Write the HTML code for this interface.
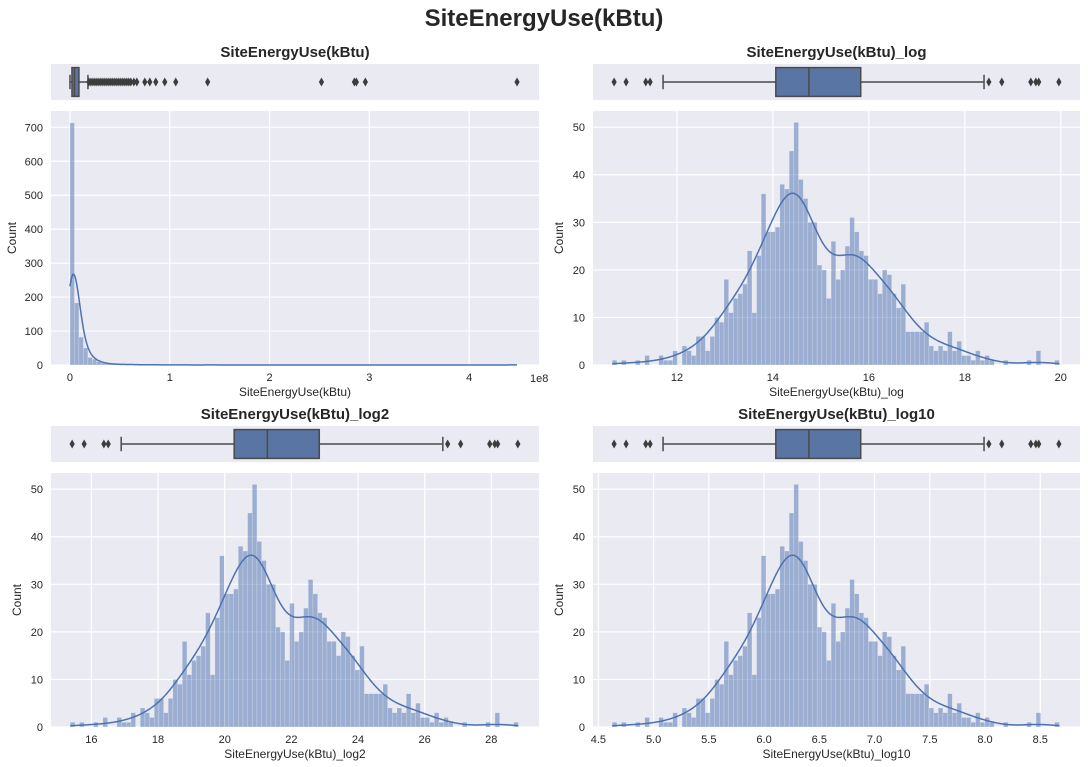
<!DOCTYPE html>
<html><head><meta charset="utf-8">
<style>
html,body{margin:0;padding:0;background:#fff;}
svg{display:block;font-family:"Liberation Sans",sans-serif;}
</style></head>
<body>
<svg id="chart" width="1088" height="767" viewBox="0 0 1088 767">
<text x="544" y="26" text-anchor="middle" font-size="24" font-weight="bold" fill="#262626">SiteEnergyUse(kBtu)</text>
</svg>
<script>
// ---- data ----
const lnCounts = [1,0,1,0,0,1,0,2,0,0,2,1,1,3,0,4,3,2,6,6,3,6,10,9,18,11,14,15,17,24,11,23,36,28,28,29,38,37,45,51,39,35,30,30,21,20,14,26,18,20,25,31,28,24,23,18,18,15,20,19,15,12,17,7,7,7,7,9,4,3,4,3,7,3,5,2,2,1,3,1,2,1,0,0,1,0,0,0,0,1,0,3,0,0,0,1];
const lnRange = [10.65, 19.97];
const rawCounts = [713,183,82,50,22,17,10,6,4,3,2,2,1,2,1,1,0,1,1,0,1,0,1,0,0,1,0,0,0,0,0,1,0,0,0,0,0,0,0,0,0,0,0,0,0,0,0,0,0,0,0,0,0,0,0,0,0,0,0,0,0,0,0,0,0,0,0,0,0,0,0,0,0,0,0,0,0,0,0,0,0,0,0,0,0,0,0,0,0,0,0,0,0,0,0,0,0,0,0,1];
const rawRange = [0, 4.48];
const rawBox = [0.0, 0.02, 0.045, 0.09, 0.18];
const rawOutliers = [0.19,0.21,0.23,0.25,0.27,0.29,0.31,0.33,0.35,0.37,0.39,0.41,0.43,0.45,0.47,0.49,0.51,0.53,0.55,0.57,0.59,0.61,0.64,0.67,0.75,0.80,0.86,0.95,1.06,1.38,2.52,2.85,2.87,2.96,4.48];
const lnBox = [11.71, 14.06, 14.75, 15.83, 18.40];
const lnOutliers = [10.69,10.94,11.35,11.44,18.5,18.77,19.375,19.48,19.54,19.96];
const rawXTicks = [0,1,2,3,4];
const rawYTicks = [0,100,200,300,400,500,600,700];
const lnXTicks = [12,14,16,18,20];
const log2XTicks = [16,18,20,22,24,26,28];
const log10XTicks = [4.5,5.0,5.5,6.0,6.5,7.0,7.5,8.0,8.5];
const logYTicks = [0,10,20,30,40,50];

const NS="http://www.w3.org/2000/svg";
const svg=document.getElementById('chart');
function mk(tag,attrs,parent){const e=document.createElementNS(NS,tag);for(const k in attrs)e.setAttribute(k,attrs[k]);(parent||svg).appendChild(e);return e;}

function panel(o){
  const g=mk('g',{});
  
  
  const X=v=>o.x0+(v-o.xd[0])/(o.xd[1]-o.xd[0])*(o.x1-o.x0);
  const Y=v=>o.hy1-v/o.ymax*(o.hy1-o.hy0);
  const tr=o.tr||(v=>v);
  const t=mk('text',{x:(o.x0+o.x1)/2,y:o.by0-7,'text-anchor':'middle','font-size':15,'font-weight':'bold',fill:'#262626'},g);
  t.textContent=o.title;
  
  
  const ba=mk('rect',{x:o.x0,y:o.by0,width:o.x1-o.x0,height:o.by1-o.by0,fill:'#eaeaf2'},g);
  
  
  const cy=(o.by0+o.by1)/2, bh=(o.by1-o.by0)*0.8;
  const b=o.box.map(v=>X(tr(v)));
  const bg=mk('g',{stroke:'#4a4a4a','stroke-width':1.5},g);
  
  
  mk('line',{x1:b[0],x2:b[1],y1:cy,y2:cy},bg);
  mk('line',{x1:b[3],x2:b[4],y1:cy,y2:cy},bg);
  mk('line',{x1:b[0],x2:b[0],y1:cy-bh/4,y2:cy+bh/4},bg);
  mk('line',{x1:b[4],x2:b[4],y1:cy-bh/4,y2:cy+bh/4},bg);
  mk('rect',{x:b[1],y:cy-bh/2,width:Math.max(b[3]-b[1],2),height:bh,fill:'#5875a4'},bg);
  mk('line',{x1:b[2],x2:b[2],y1:cy-bh/2,y2:cy+bh/2},bg);
  for(const v of o.out){
    const x=X(tr(v));
    const d=mk('path',{d:`M${x} ${cy-4.5}L${x+2.6} ${cy}L${x} ${cy+4.5}L${x-2.6} ${cy}Z`,fill:'#3d3d3d'},g);
    
    
  }
  const ha=mk('rect',{x:o.x0,y:o.hy0,width:o.x1-o.x0,height:o.hy1-o.hy0,fill:'#eaeaf2'},g);
  
  
  for(const v of o.xt){const x=X(v);
    mk('line',{x1:x,x2:x,y1:o.hy0,y2:o.hy1,stroke:'#fff','stroke-width':1.2},g);
    const l=mk('text',{x:x,y:o.hy1+16,'text-anchor':'middle','font-size':11,fill:'#262626'},g);
    l.textContent=o.xfmt?o.xfmt(v):v;
    
    
  }
  for(const v of o.yt){const y=Y(v);
    mk('line',{x1:o.x0,x2:o.x1,y1:y,y2:y,stroke:'#fff','stroke-width':1.2},g);
    const l=mk('text',{x:o.x0-8,y:y+4,'text-anchor':'end','font-size':11,fill:'#262626'},g);
    l.textContent=v;
    
    
  }
  const n=o.counts.length, lo=tr(o.range[0]), hi=tr(o.range[1]), w=(hi-lo)/n;
  o.counts.forEach((c,i)=>{
    if(c<=0)return;
    const xa=X(lo+i*w), xb=X(lo+(i+1)*w);
    const r=mk('rect',{x:xa,y:Y(c),width:xb-xa,height:Y(0)-Y(c),fill:'rgba(76,114,176,0.5)',stroke:'rgba(255,255,255,0.35)','stroke-width':0.5},g);
    
    
  });
  const tot=o.counts.reduce((a,b)=>a+b,0);
  let mean=0;o.counts.forEach((c,i)=>mean+=c*(lo+(i+.5)*w));mean/=tot;
  let vr=0;o.counts.forEach((c,i)=>vr+=c*Math.pow(lo+(i+.5)*w-mean,2));vr/=tot;
  const bw=o.bw?o.bw:Math.sqrt(vr)*Math.pow(tot,-0.2);
  let pts=[];
  for(let k=0;k<=400;k++){const v=lo+(hi-lo)*k/400;let d=0;
    o.counts.forEach((c,i)=>{const z=(v-(lo+(i+.5)*w))/bw;d+=c*Math.exp(-.5*z*z);});
    d=d/(bw*Math.sqrt(2*Math.PI))*w;pts.push(X(v).toFixed(2)+','+Y(d).toFixed(2));}
  const kd=mk('polyline',{points:pts.join(' '),fill:'none',stroke:'#4c72b0','stroke-width':1.5},g);
  
  
  const xl=mk('text',{x:(o.x0+o.x1)/2,y:o.hy1+31,'text-anchor':'middle','font-size':12,fill:'#262626'},g);
  xl.textContent=o.xlabel;
  
  
  const yl=mk('text',{x:0,y:0,'text-anchor':'middle','font-size':12,fill:'#262626',transform:`translate(${o.ylx},${(o.hy0+o.hy1)/2}) rotate(-90)`},g);
  yl.textContent='Count';
  
  
  if(o.offset){const of=mk('text',{x:o.x1-9,y:o.hy1+17,'text-anchor':'start','font-size':11,fill:'#262626'},g);of.textContent=o.offset;
    
    }
}
panel({name:'raw',title:'SiteEnergyUse(kBtu)',x0:51,x1:539,by0:64,by1:100,hy0:111,hy1:365,xd:[-0.19,4.70],ymax:748,
  counts:rawCounts,range:rawRange,box:rawBox,out:rawOutliers,xt:rawXTicks,yt:rawYTicks,xlabel:'SiteEnergyUse(kBtu)',offset:'1e8',bw:0.06,ylx:16});
panel({name:'log',title:'SiteEnergyUse(kBtu)_log',x0:593,x1:1080,by0:64,by1:100,hy0:111,hy1:365,xd:[10.25,20.4],ymax:53.4,
  counts:lnCounts,range:lnRange,box:lnBox,out:lnOutliers,xt:lnXTicks,yt:logYTicks,xlabel:'SiteEnergyUse(kBtu)_log',ylx:563});
panel({name:'log2',title:'SiteEnergyUse(kBtu)_log2',x0:51,x1:539,by0:426,by1:462,hy0:473,hy1:727,xd:[10.25/Math.LN2,20.4/Math.LN2],ymax:53.4,
  tr:v=>v/Math.LN2,counts:lnCounts,range:lnRange,box:lnBox,out:lnOutliers,xt:log2XTicks,yt:logYTicks,xlabel:'SiteEnergyUse(kBtu)_log2',ylx:21});
panel({name:'log10',title:'SiteEnergyUse(kBtu)_log10',x0:593,x1:1080,by0:426,by1:462,hy0:473,hy1:727,xd:[10.25/Math.LN10,20.4/Math.LN10],ymax:53.4,
  tr:v=>v/Math.LN10,counts:lnCounts,range:lnRange,box:lnBox,out:lnOutliers,xt:log10XTicks,xfmt:v=>v.toFixed(1),yt:logYTicks,xlabel:'SiteEnergyUse(kBtu)_log10',ylx:563});
</script>
</body></html>
